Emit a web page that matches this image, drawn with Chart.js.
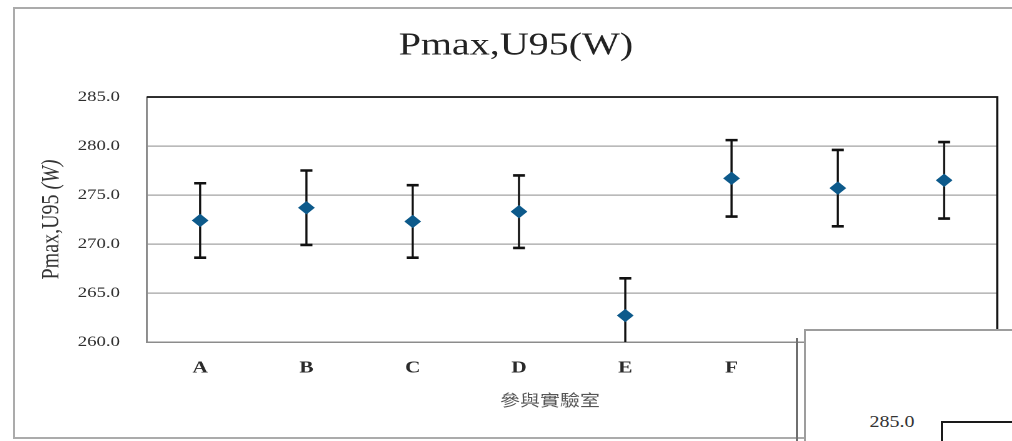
<!DOCTYPE html>
<html>
<head>
<meta charset="utf-8">
<script src="https://cdn.jsdelivr.net/npm/chart.js@4.4.1/dist/chart.umd.min.js"></script>
<style>
  html, body { margin: 0; padding: 0; background: #fff; }
  body { width: 1012px; height: 441px; overflow: hidden; position: relative; }
  #frame { position: absolute; left: 13px; top: 7px; width: 1030px; height: 428px; border: 2px solid #ababab; }
  #wrap { position: absolute; left: 14px; top: 9px; width: 803px; height: 429px; transform: scaleX(1.25); transform-origin: 0 0; }
  #shadow { position: absolute; left: 796px; top: 338px; width: 2px; height: 110px; background: #6f6f6f; }
  #panel { position: absolute; left: 804px; top: 329px; width: 230px; height: 130px; background: #fff; border-top: 2px solid #9d9d9d; border-left: 2px solid #9d9d9d; }
  #panelTick { position: absolute; left: 864px; top: 413px; width: 56px; text-align: center; font: 16px "Liberation Serif", serif; color: #333; transform: scaleX(1.25); }
  #panelPlot { position: absolute; left: 941px; top: 421px; width: 90px; height: 40px; border-top: 2px solid #1a1a1a; border-left: 2px solid #1a1a1a; }
</style>
</head>
<body>
<div id="frame"></div>
<div id="wrap"><canvas id="c" width="803" height="429"></canvas></div>
<div id="shadow"></div>
<div id="panel"></div>
<div id="panelTick">285.0</div>
<div id="panelPlot"></div>
<script>
// Participating laboratories and their Pmax results with expanded uncertainty U95 (W)
const labs = ['A', 'B', 'C', 'D', 'E', 'F', 'G', 'H'];
const pmax = [272.4, 273.7, 272.3, 273.3, 262.7, 276.7, 275.7, 276.5];
const u95  = [3.8, 3.8, 3.7, 3.7, 3.8, 3.9, 3.9, 3.9];
const yTicks = [260, 265, 270, 275, 280, 285];

const chartTitle = 'Pmax,U95(W)';
const yTitleMain = 'Pmax,U95 ';
const yTitleUnit = '(W)';
const xTitle = '參與實驗室';

Chart.defaults.font.family = '"Liberation Serif", "Times New Roman", serif';

// Error bars (value ± U95), drawn under the markers
const errorBars = {
  id: 'errorBars',
  beforeDatasetsDraw(chart) {
    const { ctx, chartArea, scales } = chart;
    ctx.save();
    ctx.beginPath();
    ctx.rect(chartArea.left, chartArea.top, chartArea.right - chartArea.left, chartArea.bottom - chartArea.top);
    ctx.clip();
    ctx.strokeStyle = '#111';
    labs.forEach((lab, i) => {
      const x = scales.x.getPixelForValue(i);
      const yHi = scales.y.getPixelForValue(pmax[i] + u95[i]);
      const yLo = scales.y.getPixelForValue(pmax[i] - u95[i]);
      ctx.lineWidth = 1.7;
      ctx.beginPath();
      ctx.moveTo(x, yHi);
      ctx.lineTo(x, yLo);
      ctx.stroke();
      ctx.lineWidth = 2.6;
      ctx.beginPath();
      ctx.moveTo(x - 4.8, yHi);
      ctx.lineTo(x + 4.8, yHi);
      ctx.moveTo(x - 4.8, yLo);
      ctx.lineTo(x + 4.8, yLo);
      ctx.stroke();
    });
    ctx.restore();
  }
};

// Plot frame (top/right edges) and the axis titles
const frameAndTitles = {
  id: 'frameAndTitles',
  afterDraw(chart) {
    const { ctx, chartArea } = chart;
    ctx.save();
    ctx.strokeStyle = '#151515';
    ctx.lineWidth = 1.8;
    ctx.beginPath();
    ctx.moveTo(chartArea.left, chartArea.top);
    ctx.lineTo(chartArea.right, chartArea.top);
    ctx.lineTo(chartArea.right, chartArea.bottom);
    ctx.stroke();

    // y-axis title, rotated, with the unit in italics
    const cy = (chartArea.top + chartArea.bottom) / 2;
    ctx.translate(30.4, cy);
    ctx.rotate(-Math.PI / 2);
    ctx.fillStyle = '#333';
    ctx.textBaseline = 'middle';
    ctx.textAlign = 'left';
    const fMain = '20px "Liberation Serif", serif';
    const fUnit = 'italic 20px "Liberation Serif", serif';
    ctx.font = fMain;
    const w1 = ctx.measureText(yTitleMain).width;
    ctx.font = fUnit;
    const w2 = ctx.measureText(yTitleUnit).width;
    const x0 = -(w1 + w2) / 2;
    ctx.font = fMain;
    ctx.fillText(yTitleMain, x0, 0);
    ctx.font = fUnit;
    ctx.fillText(yTitleUnit, x0 + w1, 0);
    ctx.restore();

    // x-axis title
    ctx.save();
    ctx.fillStyle = '#555';
    ctx.font = '16px "Noto Sans CJK TC", sans-serif';
    ctx.textAlign = 'center';
    ctx.textBaseline = 'middle';
    ctx.fillText(xTitle, 428.8, 391);
    ctx.restore();
  }
};

new Chart(document.getElementById('c'), {
  type: 'line',
  data: {
    labels: labs,
    datasets: [{
      data: pmax,
      showLine: false,
      pointStyle: 'rectRot',
      pointRadius: 6,
      pointBackgroundColor: '#0d5a8b',
      pointBorderColor: '#0d5a8b',
      pointBorderWidth: 1
    }]
  },
  options: {
    responsive: false,
    devicePixelRatio: 2,
    animation: false,
    layout: { padding: { left: 16.4, right: 16.4, top: 0, bottom: 0 } },
    plugins: {
      legend: { display: false },
      tooltip: { enabled: false },
      title: {
        display: true,
        text: chartTitle,
        color: '#222',
        font: { size: 32, weight: 'normal', lineHeight: 1.2 },
        padding: { top: 18, bottom: 31.6 }
      }
    },
    scales: {
      x: {
        type: 'category',
        offset: true,
        grid: { display: false, drawTicks: false },
        border: { display: true, color: '#8c8c8c', width: 1.5 },
        ticks: { color: '#2a2a2a', padding: 16, font: { size: 17, weight: 'bold' }, maxRotation: 0 },
        afterFit(scale) { scale.height = 96; }
      },
      y: {
        min: 260,
        max: 285,
        grid: { color: '#a3a3a3', lineWidth: 1.3, drawTicks: false },
        border: { display: true, color: '#8c8c8c', width: 1.5 },
        ticks: {
          color: '#2e2e2e',
          padding: 21.6,
          font: { size: 15 },
          callback: (v) => Number(v).toFixed(1)
        },
        afterBuildTicks(scale) { scale.ticks = yTicks.map(v => ({ value: v })); },
        afterFit(scale) { scale.width = 90; }
      }
    }
  },
  plugins: [errorBars, frameAndTitles]
});
</script>
</body>
</html>
